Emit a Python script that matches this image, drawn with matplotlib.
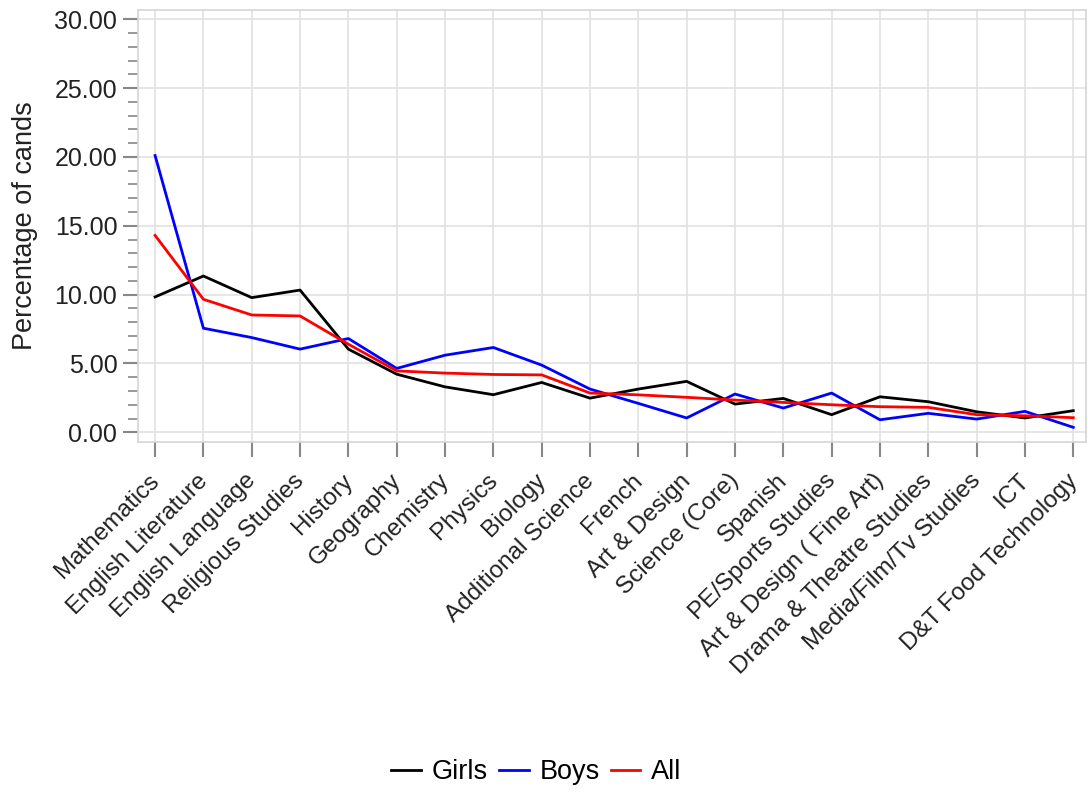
import numpy as np
import matplotlib.pyplot as plt
import matplotlib.transforms as mtransforms
from matplotlib.ticker import MultipleLocator, FormatStrFormatter

plt.rcParams['font.family'] = ['Liberation Sans', 'DejaVu Sans']

subjects = ['Mathematics', 'English Literature', 'English Language', 'Religious Studies',
            'History', 'Geography', 'Chemistry', 'Physics', 'Biology', 'Additional Science',
            'French', 'Art & Design', 'Science (Core)', 'Spanish', 'PE/Sports Studies',
            'Art & Design ( Fine Art)', 'Drama & Theatre Studies', 'Media/Film/Tv Studies',
            'ICT', 'D&T Food Technology']

girls = [9.83, 11.35, 9.78, 10.33, 6.04, 4.22, 3.30, 2.73, 3.62, 2.48,
         3.14, 3.70, 2.05, 2.46, 1.28, 2.58, 2.22, 1.49, 1.04, 1.57]
boys = [20.10, 7.56, 6.88, 6.04, 6.81, 4.64, 5.60, 6.16, 4.88, 3.14,
        2.10, 1.04, 2.78, 1.76, 2.85, 0.91, 1.38, 0.96, 1.52, 0.36]
all_cands = [14.30, 9.66, 8.52, 8.45, 6.40, 4.46, 4.30, 4.20, 4.17, 2.85,
             2.72, 2.54, 2.34, 2.17, 2.00, 1.86, 1.81, 1.28, 1.20, 1.06]

fig = plt.figure(figsize=(10.88, 7.92), dpi=100)
ax = fig.add_axes([0.127, 0.442, 0.871, 0.545])

x = np.arange(len(subjects))
ax.plot(x, girls, color='black', lw=2, label='Girls')
ax.plot(x, boys, color='blue', lw=2, label='Boys')
ax.plot(x, all_cands, color='red', lw=2, label='All')

ax.set_xlim(-0.35, 19.26)
ax.set_ylim(-0.7, 30.65)
ax.yaxis.set_major_locator(MultipleLocator(5))
ax.yaxis.set_minor_locator(MultipleLocator(1))
ax.yaxis.set_major_formatter(FormatStrFormatter('%.2f'))
ax.set_xticks(x)
ax.set_xticklabels(subjects, rotation=45, ha='right', rotation_mode='anchor', fontsize=17.5)
ax.tick_params(axis='y', labelsize=18, colors='#888888', labelcolor='#222222',
               length=11, width=1.5, pad=4)
ax.tick_params(axis='y', which='minor', colors='#888888', length=7, width=1.2)
ax.tick_params(axis='x', colors='#888888', labelcolor='#222222', length=11, width=1.5, pad=9)

# nudge rotated labels a little to the left
shift = mtransforms.ScaledTranslation(-7 / 100, 0, fig.dpi_scale_trans)
for lab in ax.get_xticklabels():
    lab.set_transform(lab.get_transform() + shift)

ax.grid(True, color='#e2e2e2', lw=1.2)
ax.set_axisbelow(True)
for s in ax.spines.values():
    s.set_color('#d5d5d5')
    s.set_linewidth(1.2)

ax.set_ylabel('Percentage of cands', fontsize=19.5, color='#222222', labelpad=12)

fig.legend(loc='center', bbox_to_anchor=(0.493, 0.025), ncol=3, frameon=False,
           fontsize=19.5, handlelength=1.1, handletextpad=0.4, columnspacing=0.4)

fig.savefig('out.png', dpi=100)
